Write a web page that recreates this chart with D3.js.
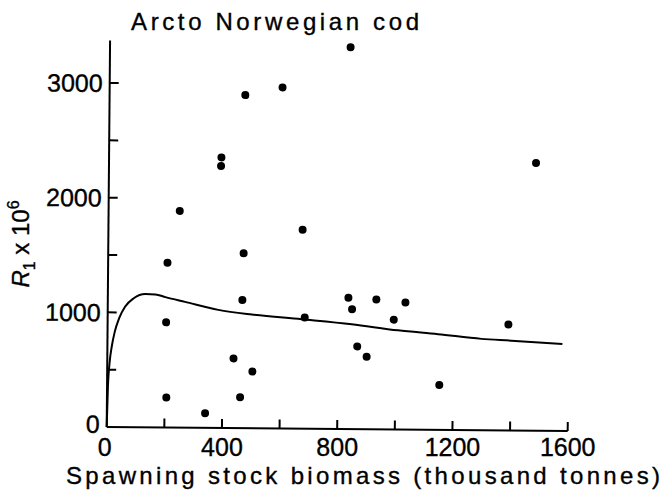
<!DOCTYPE html>
<html>
<head>
<meta charset="utf-8">
<script src="https://cdn.jsdelivr.net/npm/d3@7/dist/d3.min.js"></script>
<style>
  html, body { margin: 0; padding: 0; background: #fff; }
  svg { display: block; font-family: "Liberation Sans", Arial, sans-serif; }
  svg text { stroke: #000; stroke-width: 0.35px; }
</style>
</head>
<body>
<svg id="chart" width="662" height="491"></svg>
<script>
// Spawning stock biomass (thousand tonnes) and recruitment R1 (x 10^6), one entry per year class
const ssb = [835, 600, 471, 390, 389, 1482, 247, 674, 470, 206, 467, 835, 932, 1033, 848,
             684, 993, 203, 1391, 867, 900, 438, 504, 1153, 206, 462, 341];
const recruits = [3330, 2975, 2905, 2360, 2285, 2335, 1890, 1735, 1525, 1437, 1118, 1145, 1132, 1108, 1045,
                  970, 958, 917, 925, 722, 632, 608, 495, 392, 262, 270, 128];

// Fitted stock-recruitment curve
const curveSSB = [0, 3, 8, 15, 25, 40, 60, 90, 130, 165, 200, 268, 384, 500, 673, 847, 1008, 1147, 1298, 1402, 1579];
const curveR   = [0, 350, 560, 700, 830, 950, 1050, 1125, 1162, 1160, 1137, 1097, 1030, 992, 955, 915, 865, 835, 797, 784, 758];

// Axis ticks
const xTicks = [0, 200, 400, 600, 800, 1000, 1200, 1400, 1600];
const xTickLabels = [0, 400, 800, 1200, 1600];
const yTicks = [500, 1000, 1500, 2000, 2500, 3000];
const yTickLabels = [0, 1000, 2000, 3000];

const svg = d3.select("#chart");
const x = d3.scaleLinear().domain([0, 1600]).range([106.7, 567.7]);
const y = d3.scaleLinear().domain([0, 3000]).range([427, 83]);

// The plot panel sits very slightly askew on the page
const plot = svg.append("g").attr("transform", `rotate(0.5, ${x(0)}, ${y(0)})`);

// Axis lines
plot.append("line")
  .attr("x1", x(0)).attr("x2", x(0))
  .attr("y1", y(0)).attr("y2", y(3370))
  .attr("stroke", "#000").attr("stroke-width", 2);
plot.append("line")
  .attr("x1", x(0)).attr("x2", x(1600))
  .attr("y1", y(0)).attr("y2", y(0))
  .attr("stroke", "#000").attr("stroke-width", 2);

// Inward tick marks
plot.selectAll(".xt").data(xTicks.slice(1)).join("line")
  .attr("x1", d => x(d)).attr("x2", d => x(d))
  .attr("y1", y(0)).attr("y2", y(0) - 9)
  .attr("stroke", "#000").attr("stroke-width", 2);
plot.selectAll(".yt").data(yTicks).join("line")
  .attr("x1", x(0)).attr("x2", x(0) + 9)
  .attr("y1", d => y(d)).attr("y2", d => y(d))
  .attr("stroke", "#000").attr("stroke-width", 2);

// Tick labels (kept level on the page)
svg.selectAll(".xl").data(xTickLabels).join("text")
  .attr("x", d => x(d) - (d === 0 ? 2 : 0))
  .attr("y", y(0) + 29)
  .attr("text-anchor", "middle")
  .attr("font-size", 25)
  .text(d => d);
plot.selectAll(".yl").data(yTickLabels).join("text")
  .attr("x", x(0) - 7)
  .attr("y", d => y(d) + (d === 0 ? -3 : 0))
  .attr("dy", "0.36em")
  .attr("text-anchor", "end")
  .attr("font-size", 25)
  .text(d => d);

// Fitted curve
const curvePts = curveSSB.map((s, i) => [s, curveR[i]]);
plot.append("path")
  .datum(curvePts)
  .attr("fill", "none")
  .attr("stroke", "#000")
  .attr("stroke-width", 2)
  .attr("d", d3.line().x(d => x(d[0])).y(d => y(d[1])).curve(d3.curveMonotoneX));

// Observations
plot.selectAll(".pt").data(ssb.map((s, i) => [s, recruits[i]])).join("circle")
  .attr("cx", d => x(d[0]))
  .attr("cy", d => y(d[1]))
  .attr("r", 4)
  .attr("fill", "#000");

// Title
svg.append("text")
  .attr("x", 131).attr("y", 30)
  .attr("font-size", 24)
  .attr("textLength", 288).attr("lengthAdjust", "spacing")
  .text("Arcto Norwegian cod");

// X axis title
svg.append("text")
  .attr("x", 66).attr("y", 484)
  .attr("font-size", 24)
  .attr("textLength", 594).attr("lengthAdjust", "spacing")
  .text("Spawning stock biomass (thousand tonnes)");

// Y axis title: R1 x 10^6
const yTitle = svg.append("text")
  .attr("transform", "translate(29, 244) rotate(-90)")
  .attr("text-anchor", "middle")
  .attr("font-size", 24);
yTitle.append("tspan").attr("font-style", "italic").text("R");
yTitle.append("tspan").attr("font-size", 16).attr("dy", 6).text("1");
yTitle.append("tspan").attr("dy", -6).text(" x 10");
yTitle.append("tspan").attr("font-size", 16).attr("dy", -10).text("6");
</script>
</body>
</html>
